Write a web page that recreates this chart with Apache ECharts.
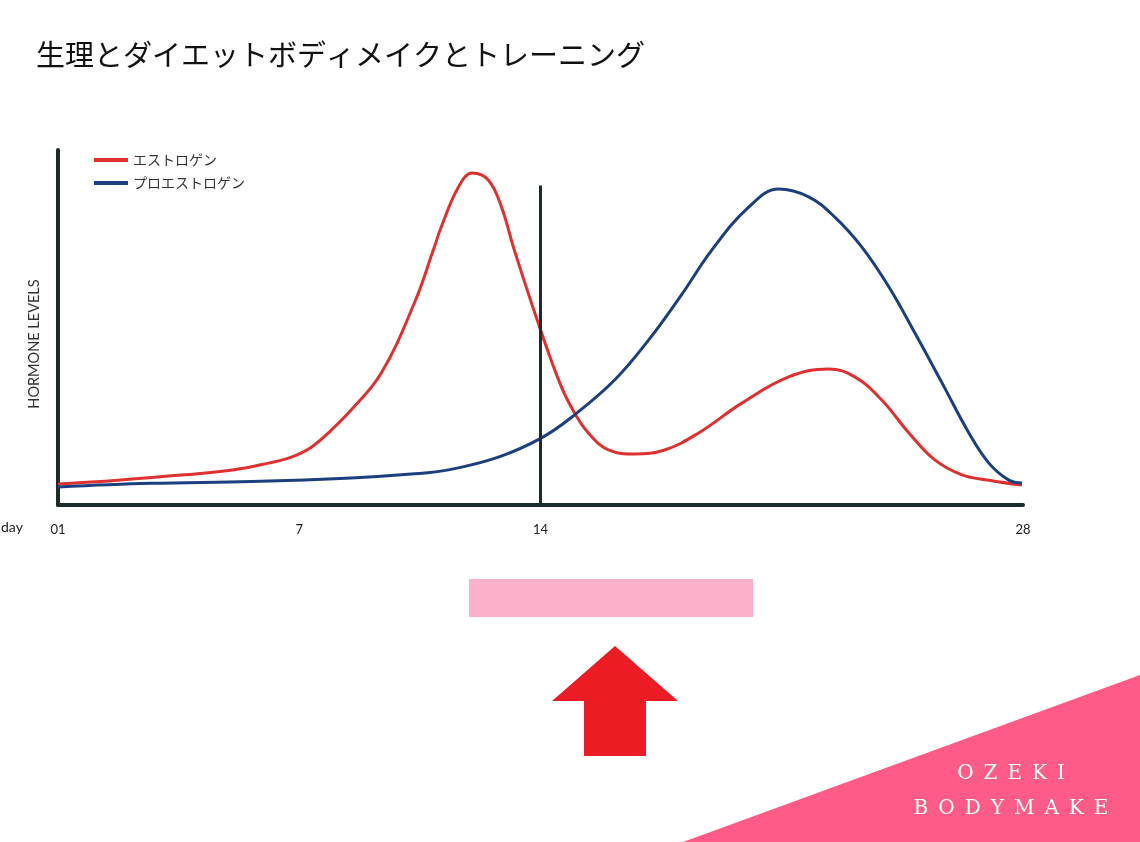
<!DOCTYPE html>
<html><head><meta charset="utf-8">
<script src="https://cdn.jsdelivr.net/npm/echarts@6/dist/echarts.min.js"></script>
<style>html,body{margin:0;padding:0;background:#fff}#c{width:1140px;height:842px}</style>
</head><body><div id="c"></div>
<script>
const seriesNames = ['エストロゲン', 'プロエストロゲン'];
const xTickLabels = {0: '01', 7: '7', 14: '14', 21: '', 28: '28'};
const estrogenDays = [0, 1.74, 3.66, 5.11, 6.10, 6.77, 7.35, 7.93, 8.51, 9.38, 10.34, 10.89, 11.12, 11.62, 12.02, 12.49, 12.87, 13.24, 14.03, 14.61, 14.99, 15.39, 15.97, 16.73, 17.6, 18.59, 19.84, 21.2, 22.36, 23.12, 23.9, 24.69, 25.44, 26.23, 27.01, 27.97];
const estrogenValues = [5.9, 7.0, 8.5, 9.9, 11.8, 13.5, 16.3, 21.1, 26.8, 37.2, 56.9, 71.8, 78.3, 89.6, 93.5, 91.5, 83.9, 71.8, 48.5, 33.2, 25.9, 20.3, 15.5, 14.4, 15.5, 20.3, 28.7, 36.1, 38.3, 36.1, 29.6, 20.3, 12.7, 8.5, 7.0, 5.6];
const progDays = [0, 2.7, 5.61, 8.51, 10.25, 11.33, 12.78, 14.03, 14.99, 16.15, 17.14, 18.09, 18.97, 20.04, 20.91, 21.78, 22.54, 23.32, 24.11, 24.86, 25.65, 26.43, 27.01, 27.59, 27.97];
const progValues = [5.1, 6.1, 6.6, 7.6, 8.7, 9.9, 13.5, 18.9, 25.4, 35.2, 46.5, 59.2, 71.8, 83.9, 89.0, 86.8, 81.1, 72.7, 61.4, 48.5, 34.4, 20.3, 11.8, 7.0, 6.2];
const ovulationDay = 14;
const ovulationTop = 90;

const pair = (xs, ys) => xs.map((x, i) => [x, ys[i]]);
const dark = '#1e2b2b';
const chart = echarts.init(document.getElementById('c'));
chart.setOption({
  animation: false,
  backgroundColor: '#fff',
  title: {
    text: '生理とダイエットボディメイクとトレーニング',
    left: 31, top: 35,
    textStyle: {fontFamily: 'Noto Sans CJK JP', fontSize: 29, fontWeight: 'normal', color: '#111'}
  },
  legend: {
    orient: 'vertical', left: 89, top: 148, itemGap: 9,
    itemWidth: 34, itemHeight: 4, icon: 'rect',
    textStyle: {fontFamily: 'Noto Sans CJK JP', fontSize: 14, color: '#333'},
    data: seriesNames
  },
  grid: {left: 58, right: 117, top: 150, bottom: 337},
  xAxis: {
    type: 'value', min: 0, max: 28, interval: 7,
    axisLine: {show: true, lineStyle: {color: dark, width: 4}},
    axisTick: {show: false}, splitLine: {show: false},
    axisLabel: {
      margin: 18, color: '#222', fontFamily: 'Lato', fontSize: 13,
      formatter: v => xTickLabels[v] !== undefined ? xTickLabels[v] : ''
    }
  },
  yAxis: {
    type: 'value', min: 0, max: 100,
    axisLine: {show: true, lineStyle: {color: dark, width: 4}},
    axisTick: {show: false}, axisLabel: {show: false}, splitLine: {show: false}
  },
  series: [
    {
      name: seriesNames[0], type: 'line', smooth: 0.4, showSymbol: false,
      data: pair(estrogenDays, estrogenValues),
      itemStyle: {color: '#e03131'}, lineStyle: {color: '#e03131', width: 3},
      markLine: {
        silent: true, symbol: 'none', label: {show: false},
        lineStyle: {color: dark, width: 3, type: 'solid'},
        data: [[{coord: [ovulationDay, 0]}, {coord: [ovulationDay, ovulationTop]}]]
      }
    },
    {
      name: seriesNames[1], type: 'line', smooth: 0.4, showSymbol: false,
      data: pair(progDays, progValues),
      itemStyle: {color: '#1c3f80'}, lineStyle: {color: '#1c3f80', width: 3}
    }
  ],
  graphic: [
    {type: 'text', x: 34, y: 344, rotation: Math.PI / 2,
     style: {text: 'HORMONE LEVELS', fontFamily: 'Lato', fontSize: 14.5, fill: '#333', align: 'center', verticalAlign: 'middle'}},
    {type: 'text', left: 1, top: 520,
     style: {text: 'day', fontFamily: 'Lato', fontSize: 14, fill: '#222'}},
    {type: 'rect', shape: {x: 469, y: 579, width: 284, height: 38}, style: {fill: '#fdb0ca'}},
    {type: 'polygon', shape: {points: [[615, 646], [678, 701], [646, 701], [646, 756], [584, 756], [584, 701], [552, 701]]},
     style: {fill: '#ec1c24'}},
    {type: 'polygon', shape: {points: [[683, 842], [1140, 675], [1140, 842]]}, style: {fill: '#fe5c87'}},
    {type: 'text', x: 1011, y: 774,
     style: {text: 'O\u2002Z\u2002E\u2002K\u2002I', fontFamily: 'DejaVu Serif', fontSize: 20, fill: '#fff', align: 'center', verticalAlign: 'middle'}},
    {type: 'text', x: 1011, y: 809,
     style: {text: 'B\u2002O\u2002D\u2002Y\u2002M\u2002A\u2002K\u2002E', fontFamily: 'DejaVu Serif', fontSize: 20, fill: '#fff', align: 'center', verticalAlign: 'middle'}}
  ]
});
</script></body></html>
